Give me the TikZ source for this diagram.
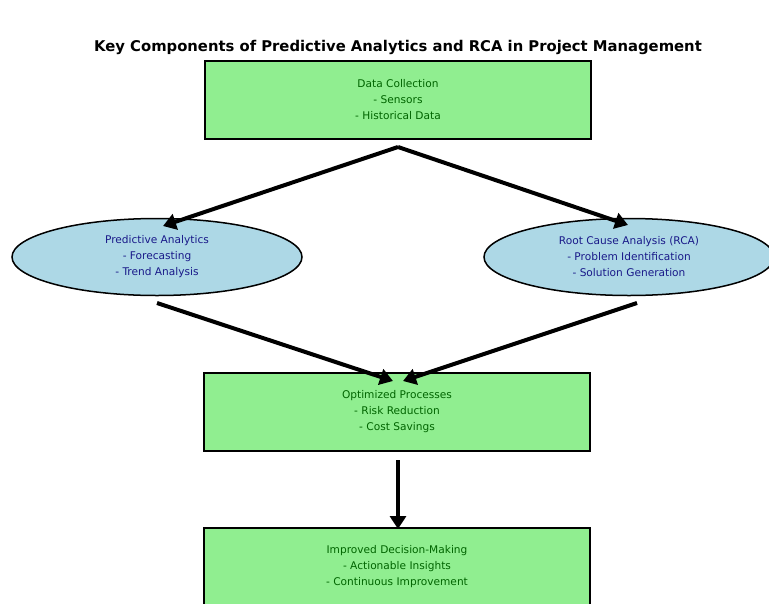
\documentclass[tikz,border=0pt]{standalone}
\usepackage{fontspec}
\setmainfont{DejaVu Sans}
\usetikzlibrary{arrows.meta,shapes.geometric}
\definecolor{boxgreen}{HTML}{90EE90}
\definecolor{ellblue}{HTML}{ADD8E6}
\definecolor{txtgreen}{HTML}{006400}
\definecolor{txtblue}{HTML}{00008B}
\tikzset{
  greenbox/.style={draw=black, line width=1.5pt, fill=boxgreen, rectangle,
    minimum width=386pt, minimum height=78pt, inner sep=0pt,
    text=txtgreen, align=center, font=\fontsize{10.6}{16}\selectfont},
  blueell/.style={draw=black, line width=1.5pt, fill=ellblue, ellipse,
    minimum width=290pt, minimum height=77pt, inner sep=0pt,
    text=txtblue!80!gray, align=center, font=\fontsize{10.6}{16}\selectfont},
  flow/.style={line width=4pt, -{Triangle[length=13pt,width=16pt]}, black}
}
\begin{document}
\begin{tikzpicture}[x=1pt,y=-1pt]
\clip (0,0) rectangle (769,603);
\fill[white] (0,0) rectangle (769,603);
\node[font=\fontsize{14.8}{16}\selectfont\bfseries, text=black] (title) at (398,47) {Key Components of Predictive Analytics and RCA in Project Management};
\node[greenbox] (data) at (398,100) {Data Collection\\- Sensors\\- Historical Data};
\node[blueell] (pa) at (157,257) {Predictive Analytics\\- Forecasting\\- Trend Analysis};
\node[blueell] (rca) at (629,257) {Root Cause Analysis (RCA)\\- Problem Identification\\- Solution Generation};
\node[greenbox] (opt) at (397,412) {Optimized Processes\\- Risk Reduction\\- Cost Savings};
\node[greenbox] (dec) at (397,567) {Improved Decision-Making\\- Actionable Insights\\- Continuous Improvement};
\coordinate (apex) at (398,147);
\coordinate (paTip) at (163,226);
\coordinate (rcaTip) at (628,225);
\coordinate (paOut) at (157,303);
\coordinate (rcaOut) at (637,303);
\coordinate (optInL) at (393,381);
\coordinate (optInR) at (403,381);
\coordinate (optOut) at (398,460);
\coordinate (decIn) at (398,529);
\draw[flow] (apex) -- (paTip);
\draw[flow] (apex) -- (rcaTip);
\draw[flow] (paOut) -- (optInL);
\draw[flow] (rcaOut) -- (optInR);
\draw[flow] (optOut) -- (decIn);
\end{tikzpicture}
\end{document}
